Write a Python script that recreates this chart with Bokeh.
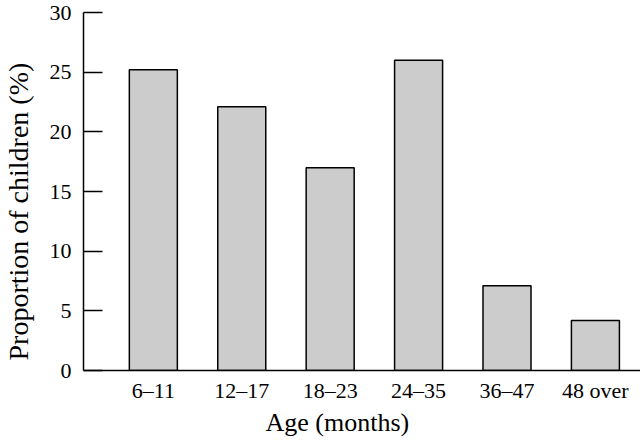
from bokeh.plotting import figure
from bokeh.models import Range1d, FixedTicker, Title
from bokeh.embed import file_html
from bokeh.resources import INLINE

categories = ["6\u201311", "12\u201317", "18\u201323", "24\u201335", "36\u201347", "48 over"]
values = [25.2, 22.1, 17.0, 26.0, 7.1, 4.2]
y_ticks = [0, 5, 10, 15, 20, 25, 30]

xs = list(range(1, len(categories) + 1))
FONT = "Liberation Serif"

p = figure(width=640, height=442, output_backend="svg", toolbar_location=None,
           x_range=Range1d(0.21, 6.51), y_range=Range1d(0, 30),
           min_border_left=83, min_border_right=0, min_border_top=12, min_border_bottom=72)
p.outline_line_color = None
p.xgrid.grid_line_color = None
p.ygrid.grid_line_color = None
p.background_fill_color = "white"

p.vbar(x=xs, top=values, width=0.543, bottom=0, fill_color="#cccccc",
       line_color="black", line_width=1.5)

p.yaxis.ticker = FixedTicker(ticks=y_ticks)
p.yaxis.major_tick_in = 19
p.yaxis.major_tick_out = 0
p.yaxis.minor_tick_line_color = None
p.yaxis.major_label_standoff = 12
p.yaxis.axis_line_width = 1.5
p.yaxis.major_tick_line_width = 1.5
# invisible spacer so the outer title sits at the left edge, as in the reference
p.yaxis.axis_label = " "
p.yaxis.axis_label_text_font_size = "1px"
p.yaxis.axis_label_standoff = 9

p.xaxis.ticker = FixedTicker(ticks=xs)
p.xaxis.major_label_overrides = {x: c for x, c in zip(xs, categories)}
p.xaxis.major_tick_in = 0
p.xaxis.major_tick_out = 0
p.xaxis.minor_tick_line_color = None
p.xaxis.major_label_standoff = 7
p.xaxis.axis_line_width = 1.5

for ax in (p.xaxis, p.yaxis):
    ax.major_label_text_font = FONT
    ax.major_label_text_font_size = "22px"
    ax.major_label_text_color = "black"
    ax.axis_line_color = "black"
    ax.major_tick_line_color = "black"

p.add_layout(Title(text="Proportion of children (%)", align="left", offset=10,
                   text_font=FONT, text_font_size="28px", text_font_style="normal",
                   text_color="black", standoff=0), "left")
p.add_layout(Title(text="Age (months)", align="left", offset=182,
                   text_font=FONT, text_font_size="26px", text_font_style="normal",
                   text_color="black", standoff=0), "below")

open("out.html", "w").write(file_html(p, INLINE))
